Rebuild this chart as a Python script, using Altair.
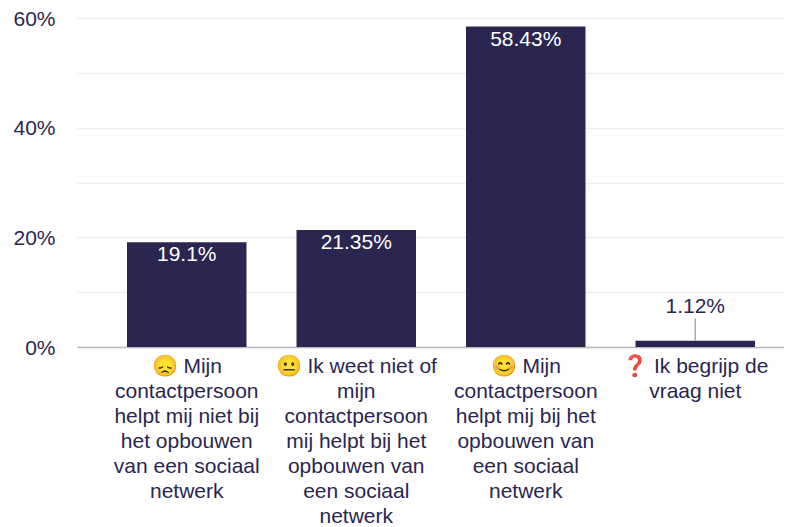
import altair as alt
import pandas as pd

categories = [
    "😞 Mijn|contactpersoon|helpt mij niet bij|het opbouwen|van een sociaal|netwerk",
    "😐 Ik weet niet of|mijn|contactpersoon|mij helpt bij het|opbouwen van|een sociaal|netwerk",
    "😊 Mijn|contactpersoon|helpt mij bij het|opbouwen van|een sociaal|netwerk",
    "❓ Ik begrijp de|vraag niet",
]
values = [19.1, 21.35, 58.43, 1.12]
labels = ["19.1%", "21.35%", "58.43%", "1.12%"]
inside = [True, True, True, False]
leader_top = [None, None, None, 5.2]

INK = "#2a2650"
FONT = "Liberation Sans"

df = pd.DataFrame({"cat": categories, "v": values, "label": labels,
                   "inside": inside, "top": leader_top})

xenc = alt.X("cat:N", sort=None, title=None,
             scale=alt.Scale(paddingInner=0.295, paddingOuter=0.233, align=0.633),
             axis=alt.Axis(labelExpr="split(datum.label, '|')", labelAngle=0, labelAlign="center",
                           labelFont=FONT, labelFontSize=21, labelColor=INK, labelLineHeight=25,
                           labelPadding=8, labelLimit=0, ticks=False, domainColor="#bbbbbb",
                           domainWidth=1.5, grid=False))

bars = alt.Chart(df).mark_bar(color=INK).encode(
    x=xenc,
    y=alt.Y("v:Q", title=None, scale=alt.Scale(domain=[0, 60], nice=False),
            axis=alt.Axis(values=[0, 10, 20, 30, 40, 50, 60], labelExpr="datum.value % 20 == 0 ? datum.value + '%' : ''",
                          labelFont=FONT, labelFontSize=21, labelColor=INK, labelPadding=22, labelOffset=1,
                          labelBound=False, labelFlush=False,
                          ticks=False, domain=False, gridColor="#eeeeee", gridWidth=1.5)),
)

inside_text = alt.Chart(df[df["inside"]]).mark_text(
    font=FONT, fontSize=21, color="white", baseline="top", dy=2
).encode(x=alt.X("cat:N", sort=categories), y="v:Q", text="label:N")

outside_text = alt.Chart(df[~df["inside"]]).mark_text(
    font=FONT, fontSize=21, color=INK, baseline="bottom", dy=-24
).encode(x=alt.X("cat:N", sort=categories), y="v:Q", text="label:N")

leader = alt.Chart(df[~df["inside"]]).mark_rule(color="#aaaaaa", strokeWidth=1.5).encode(
    x=alt.X("cat:N", sort=categories), y="v:Q", y2="top:Q"
)

chart = alt.layer(bars, leader, inside_text, outside_text).properties(
    width=707, height=329,
    autosize=alt.AutoSizeParams(type="none"),
    padding={"left": 69, "top": 10, "right": 0, "bottom": 180},
).configure_view(stroke=None)

chart.save("out.html", embed_options={"renderer": "svg", "actions": False})
